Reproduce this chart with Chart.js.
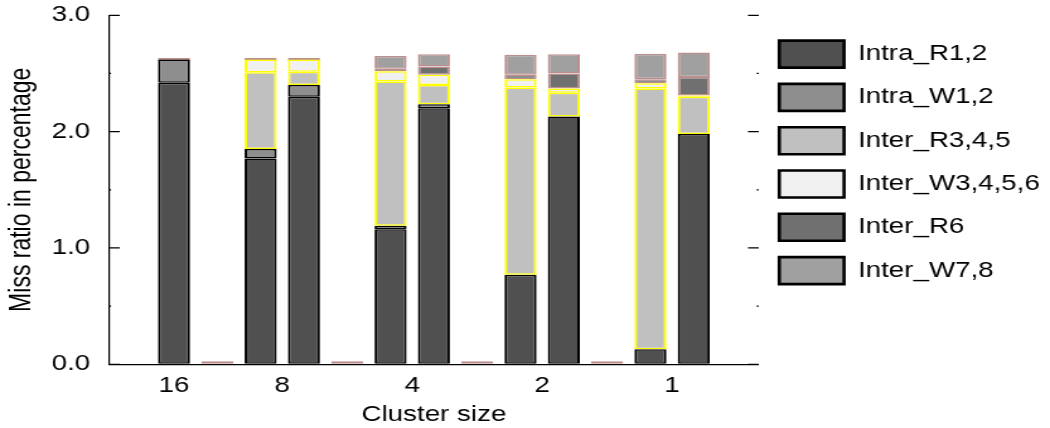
<!DOCTYPE html>
<html>
<head>
<meta charset="utf-8">
<script src="https://cdn.jsdelivr.net/npm/chart.js@4.4.1/dist/chart.umd.min.js"></script>
<style>
    html, body { margin: 0; padding: 0; background: #fff; overflow: hidden; }
    /* the reference is a stretched plot: draw narrow, then widen */
    #wrap { width: 833px; height: 428px; transform: scaleX(1.2605); transform-origin: 0 0; }
</style>
</head>
<body>
<div id="wrap"><canvas id="missChart"></canvas></div>
<script>
// one entry per bar slot, '' = empty spacer slot
const slotGroups = ['16', '', '8', '8', '', '4', '4', '', '2', '2', '', '1', '1'];
const clusterSizes = ['16', '8', '4', '2', '1'];

const intraR12   = [2.42, 0, 1.77, 2.30, 0, 1.16, 2.20,  0, 0.77, 2.13,  0, 0.13, 1.98];
const intraW12   = [0.20, 0, 0.08, 0.10, 0, 0.03, 0.035, 0, 0,    0,     0, 0,    0];
const interR345  = [0,    0, 0.66, 0.115, 0, 1.24, 0.165, 0, 1.61, 0.205, 0, 2.24, 0.32];
const interW3456 = [0,    0, 0.11, 0.105, 0, 0.09, 0.09,  0, 0.07, 0.035, 0, 0.045, 0.01];
const interR6    = [0,    0, 0,    0,    0, 0.02, 0.07,  0, 0.04, 0.13,  0, 0.035, 0.16];
const interW78   = [0,    0, 0,    0,    0, 0.11, 0.105, 0, 0.17, 0.165, 0, 0.22, 0.21];

const slotIndex = slotGroups.map((g, i) => i);
// label position = middle of the slots of each cluster size
const tickPositions = clusterSizes.map(size => {
    const idx = slotIndex.filter(i => slotGroups[i] === size);
    return idx.reduce((a, b) => a + b, 0) / idx.length;
});

Chart.defaults.font.family = '"Liberation Sans", Arial, sans-serif';
Chart.defaults.font.size = 22;
Chart.defaults.color = '#000';

const segBorder = { left: 2, right: 2, top: 1.5, bottom: 1.5 };

// short tick marks pointing into the plot, on both sides
const innerTicks = {
    id: 'innerTicks',
    afterInit(chart) {
        // legend width leaves out the left padding, so the last label got clipped
        const legend = chart.legend;
        const fit = legend.fit.bind(legend);
        legend.fit = function () {
            fit();
            this.width += this.options.labels.padding;
        };
    },
    afterDraw(chart) {
        const ctx = chart.ctx;
        const area = chart.chartArea;
        const y = chart.scales.y;
        const major = y.ticks.map(t => t.value);
        const minor = [];
        for (let i = 0; i < major.length - 1; i++) minor.push((major[i] + major[i + 1]) / 2);
        ctx.save();
        ctx.lineWidth = 1.3;
        const mark = (v, len, color) => {
            const py = y.getPixelForValue(v);
            ctx.strokeStyle = color;
            ctx.beginPath();
            ctx.moveTo(area.left, py); ctx.lineTo(area.left + len, py);
            ctx.moveTo(area.right, py); ctx.lineTo(area.right - len, py);
            ctx.stroke();
        };
        major.forEach(v => mark(v, 8.5, '#000'));
        minor.forEach(v => mark(v, 1.6, '#000'));
        ctx.restore();
    }
};

const ctx = document.getElementById('missChart').getContext('2d');
new Chart(ctx, {
    type: 'bar',
    data: {
        labels: slotIndex,
        datasets: [
            { label: 'Intra_R1,2', data: intraR12, backgroundColor: '#505050', borderColor: '#000000' },
            { label: 'Intra_W1,2', data: intraW12, backgroundColor: '#8e8e8e', borderColor: '#000000' },
            { label: 'Inter_R3,4,5', data: interR345, backgroundColor: '#c0c0c0', borderColor: '#ffff00' },
            { label: 'Inter_W3,4,5,6', data: interW3456, backgroundColor: '#f0f0f0', borderColor: '#ffff00' },
            { label: 'Inter_R6', data: interR6, backgroundColor: '#707070', borderColor: '#bc8f8f' },
            { label: 'Inter_W7,8', data: interW78, backgroundColor: '#a0a0a0', borderColor: '#bc8f8f', minBarLength: 3 }
        ]
    },
    options: {
        responsive: true,
        maintainAspectRatio: false,
        animation: false,
        events: [],
        layout: { padding: { top: 15.3, right: 8.7, bottom: 0, left: 0 } },
        datasets: {
            bar: {
                borderWidth: segBorder,
                borderSkipped: false,
                barPercentage: 0.74,
                categoryPercentage: 1.0
            }
        },
        scales: {
            x: {
                type: 'linear',
                stacked: true,
                offset: false,
                min: -1.5,
                max: 13.5,
                grid: { drawOnChartArea: false, drawTicks: false, offset: false },
                border: { display: true, color: '#000', width: 1.3 },
                afterBuildTicks: (scale) => {
                    scale.ticks = tickPositions.map(v => ({ value: v }));
                },
                afterFit: (scale) => { scale.height = 63.7; },
                ticks: {
                    autoSkip: false,
                    maxRotation: 0,
                    padding: 8,
                    callback: (value, index) => clusterSizes[index]
                },
                title: { display: true, text: 'Cluster size', padding: 0 }
            },
            y: {
                stacked: true,
                min: 0,
                max: 3,
                grid: { drawOnChartArea: false, drawTicks: false },
                border: { display: true, color: '#000', width: 1.2 },
                afterFit: (scale) => {
                    scale.width = 86.5;
                    scale.paddingTop = 0;
                    scale.paddingBottom = 0;
                },
                ticks: {
                    stepSize: 1,
                    padding: 15,
                    callback: (value) => value.toFixed(1)
                },
                title: { display: true, text: 'Miss ratio in percentage', font: { size: 23 }, padding: { top: 4 } }
            }
        },
        plugins: {
            tooltip: { enabled: false },
            legend: {
                position: 'right',
                align: 'start',
                title: { display: true, text: '', padding: 0, font: { size: 10, lineHeight: 0.9 } },
                labels: {
                    boxWidth: 51.4,
                    boxHeight: 27,
                    padding: 16.3,
                    color: '#000',
                    generateLabels: (chart) =>
                        Chart.defaults.plugins.legend.labels.generateLabels(chart).map(item => ({
                            ...item, strokeStyle: '#000', lineWidth: 2.6
                        }))
                }
            }
        }
    },
    plugins: [innerTicks]
});
</script>
</body>
</html>
